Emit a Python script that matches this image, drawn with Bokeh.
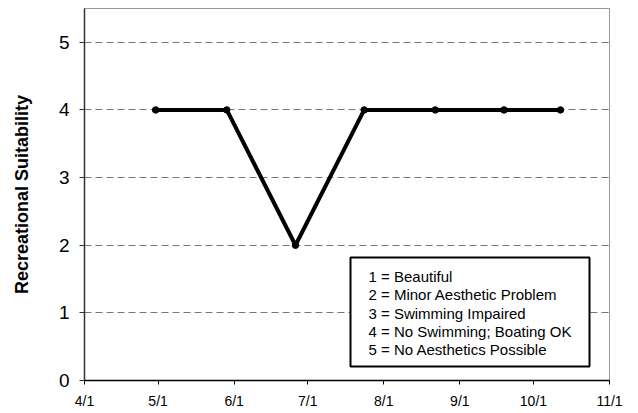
import pandas as pd
from bokeh.plotting import figure
from bokeh.models import FixedTicker, BoxAnnotation, Label, Range1d, ColumnDataSource
from bokeh.embed import file_html
from bokeh.resources import INLINE

# ---- data ----
sample_dates = ["2006-04-30", "2006-05-29", "2006-06-26", "2006-07-24",
                "2006-08-22", "2006-09-19", "2006-10-12"]
suitability = [4, 4, 2, 4, 4, 4, 4]

tick_dates = ["2006-04-01", "2006-05-01", "2006-06-01", "2006-07-01",
              "2006-08-01", "2006-09-01", "2006-10-01", "2006-11-01"]
tick_labels = ["4/1", "5/1", "6/1", "7/1", "8/1", "9/1", "10/1", "11/1"]
y_ticks = [0, 1, 2, 3, 4, 5]
y_max = 5.5
key_lines = ["1 = Beautiful", "2 = Minor Aesthetic Problem", "3 = Swimming Impaired",
             "4 = No Swimming; Boating OK", "5 = No Aesthetics Possible"]

def to_ms(ds):
    return [float(v) for v in (pd.to_datetime(ds).astype("int64") // 10**6)]

x_ms = to_ms(sample_dates)
tick_ms = to_ms(tick_dates)

FONT = "Liberation Sans"

p = figure(width=638, height=413, output_backend="svg", toolbar_location=None,
           x_axis_type="datetime",
           x_range=Range1d(tick_ms[0], tick_ms[-1]), y_range=Range1d(0, y_max),
           min_border_left=84, min_border_right=29, min_border_top=8, min_border_bottom=33)

p.outline_line_color = "#999999"
p.outline_line_width = 1
p.background_fill_color = "white"
p.border_fill_color = "white"

src = ColumnDataSource(dict(x=x_ms, y=suitability))
p.line("x", "y", source=src, line_color="black", line_width=4, line_join="round")
p.scatter("x", "y", source=src, size=6.5, fill_color="black", line_color="black")

# x axis
xa = p.xaxis[0]
xa.ticker = FixedTicker(ticks=tick_ms)
xa.major_label_overrides = {t: l for t, l in zip(tick_ms, tick_labels)}
xa.minor_tick_line_color = None
xa.major_tick_in = 0
xa.major_tick_out = 4
xa.major_tick_line_color = "black"
xa.axis_line_color = "black"
xa.axis_line_width = 1.5
xa.major_label_text_font = FONT
xa.major_label_text_font_size = "14px"
xa.major_label_text_color = "black"
xa.major_label_standoff = 8

# y axis
ya = p.yaxis[0]
ya.ticker = FixedTicker(ticks=y_ticks)
ya.minor_tick_line_color = None
ya.major_tick_in = 0
ya.major_tick_out = 5
ya.major_tick_line_color = "#333333"
ya.axis_line_color = "#333333"
ya.axis_line_width = 1.5
ya.major_label_text_font = FONT
ya.major_label_text_font_size = "19px"
ya.major_label_text_color = "black"
ya.major_label_standoff = 10
ya.axis_label = "Recreational Suitability"
ya.axis_label_text_font = FONT
ya.axis_label_text_font_size = "18px"
ya.axis_label_text_font_style = "bold"
ya.axis_label_text_color = "black"
ya.axis_label_standoff = 24

p.xgrid.grid_line_color = None
p.ygrid.grid_line_color = "#777777"
p.ygrid.grid_line_width = 1
p.ygrid.grid_line_dash = "7 4"

# key box
box = BoxAnnotation(left=266, right=505, top=123, bottom=14,
                    left_units="screen", right_units="screen",
                    top_units="screen", bottom_units="screen",
                    fill_color="white", fill_alpha=1.0,
                    line_color="black", line_alpha=1.0, line_width=2)
p.add_layout(box)
for i, txt in enumerate(key_lines):
    p.add_layout(Label(x=284, y=104 - 18.25 * i, x_units="screen", y_units="screen",
                       text=txt, text_font=FONT, text_font_size="15px",
                       text_baseline="middle", text_align="left", text_color="black"))

open("out.html", "w").write(file_html(p, INLINE))
